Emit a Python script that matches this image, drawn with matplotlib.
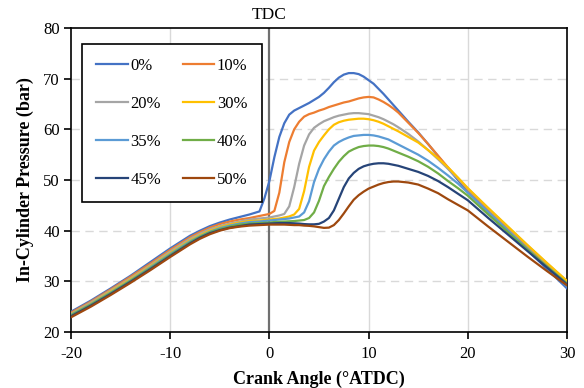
import matplotlib
matplotlib.use("Agg")
import matplotlib.pyplot as plt
import numpy as np

# %% data (crank angle in deg ATDC, pressure in bar)
crank = ([-20, -18, -16, -14, -12, -10, -8, -7, -6, -5, -4, -3, -2]
         + [-1.5, -1, -0.5, 0, 0.5, 1, 1.5, 2, 2.5, 3, 3.5, 4, 4.5, 5, 5.5,
            6, 6.5, 7, 7.5, 8, 8.5, 9, 9.5, 10, 10.5, 11, 11.5, 12, 12.5, 13]
         + [14, 15, 16, 17, 18, 19, 20, 22, 24, 26, 28, 30])

labels = ["0%", "10%", "20%", "30%", "35%", "40%", "45%", "50%"]
colors = ["#4472C4", "#ED7D31", "#A5A5A5", "#FFC000",
          "#5B9BD5", "#70AD47", "#264478", "#9E480E"]

p00 = [24.0, 26.2, 28.6, 31.1, 33.8, 36.5, 39.0, 40.0, 40.9, 41.6, 42.2, 42.7, 43.2,
       43.5, 43.8, 46.4, 49.8, 54.5, 58.5, 61.2, 62.9, 63.7, 64.2, 64.7, 65.2, 65.8,
       66.4, 67.2, 68.2, 69.3, 70.2, 70.8, 71.1, 71.1, 70.9, 70.4, 69.7, 69.0, 68.0,
       67.0, 65.9, 64.8, 63.7,
       61.5, 59.4, 57.1, 54.7, 52.3, 50.0, 47.6, 43.8, 40.0, 36.2, 32.4, 28.6]
p10 = [23.8, 26.0, 28.4, 30.9, 33.5, 36.2, 38.7, 39.7, 40.6, 41.3, 41.8, 42.2, 42.5,
       42.7, 42.9, 43.1, 43.3, 43.9, 47.5, 53.5, 57.5, 60.0, 61.5, 62.5, 63.0, 63.3,
       63.7, 64.0, 64.4, 64.7, 65.0, 65.3, 65.5, 65.8, 66.1, 66.3, 66.4, 66.3, 65.9,
       65.4, 64.8, 64.1, 63.3,
       61.3, 59.3, 57.1, 54.8, 52.5, 50.3, 48.1, 44.3, 40.6, 36.9, 33.3, 29.8]
p20 = [23.6, 25.8, 28.2, 30.6, 33.2, 35.9, 38.4, 39.4, 40.3, 40.9, 41.4, 41.8, 42.2,
       42.3, 42.4, 42.5, 42.6, 42.8, 43.0, 43.3, 44.8, 48.6, 53.2, 56.8, 59.0, 60.3,
       61.0, 61.6, 62.0, 62.4, 62.7, 62.9, 63.1, 63.2, 63.2, 63.1, 63.0, 62.7, 62.4,
       62.0, 61.5, 61.0, 60.4,
       59.1, 57.6, 55.9, 54.1, 52.2, 50.3, 48.3, 44.5, 40.8, 37.1, 33.5, 30.0]
p30 = [23.5, 25.6, 28.0, 30.4, 33.0, 35.6, 38.1, 39.1, 40.0, 40.7, 41.2, 41.6, 41.9,
       41.95, 42.0, 42.1, 42.2, 42.3, 42.4, 42.6, 42.8, 43.2, 44.3, 47.8, 52.6, 55.8,
       57.5, 58.8, 60.0, 60.9, 61.4, 61.7, 61.9, 62.0, 62.1, 62.1, 62.0, 61.8, 61.5,
       61.1, 60.6, 60.1, 59.6,
       58.5, 57.4, 55.9, 54.3, 52.5, 50.5, 48.4, 44.6, 40.9, 37.2, 33.6, 30.1]
p35 = [23.4, 25.5, 27.8, 30.2, 32.8, 35.4, 37.9, 38.9, 39.8, 40.5, 41.0, 41.4, 41.7,
       41.75, 41.8, 41.9, 42.0, 42.1, 42.2, 42.3, 42.4, 42.6, 42.8, 43.6, 45.8, 49.6,
       52.2, 54.1, 55.6, 56.8, 57.5, 58.0, 58.4, 58.7, 58.8, 58.9, 58.9, 58.8, 58.6,
       58.3, 58.0, 57.5, 57.0,
       56.0, 55.0, 53.8, 52.4, 50.9, 49.3, 47.5, 43.8, 40.1, 36.4, 32.7, 29.0]
p40 = [23.3, 25.4, 27.7, 30.1, 32.6, 35.2, 37.7, 38.8, 39.7, 40.3, 40.8, 41.2, 41.4,
       41.45, 41.5, 41.55, 41.6, 41.7, 41.75, 41.8, 41.85, 41.9, 42.0, 42.1, 42.5, 43.6,
       45.9, 48.8, 50.6, 52.2, 53.6, 54.7, 55.6, 56.1, 56.5, 56.7, 56.8, 56.8, 56.7,
       56.5, 56.2, 55.8, 55.4,
       54.6, 53.7, 52.6, 51.3, 49.8, 48.4, 46.9, 43.3, 39.8, 36.3, 32.9, 29.6]
p45 = [23.1, 25.2, 27.5, 29.9, 32.4, 35.0, 37.5, 38.6, 39.5, 40.1, 40.6, 40.9, 41.2,
       41.25, 41.3, 41.35, 41.4, 41.45, 41.5, 41.5, 41.5, 41.45, 41.4, 41.3, 41.25, 41.25,
       41.35, 41.8, 42.5, 44.0, 46.3, 48.6, 50.3, 51.4, 52.2, 52.7, 53.0, 53.2, 53.3,
       53.3, 53.2, 53.0, 52.8,
       52.2, 51.6, 50.8, 49.8, 48.6, 47.3, 46.0, 42.6, 39.3, 36.0, 32.7, 29.4]
p50 = [22.9, 25.0, 27.3, 29.7, 32.2, 34.8, 37.3, 38.4, 39.3, 40.0, 40.5, 40.8, 41.0,
       41.05, 41.1, 41.15, 41.2, 41.2, 41.2, 41.2, 41.15, 41.1, 41.1, 41.0, 40.95, 40.85,
       40.7, 40.55, 40.6, 41.1, 42.1, 43.4, 44.8, 46.1, 47.0, 47.7, 48.3, 48.7, 49.1,
       49.4, 49.6, 49.7, 49.7,
       49.5, 49.1, 48.3, 47.4, 46.2, 45.1, 44.0, 40.9, 37.9, 34.9, 32.0, 29.2]
series = [p00, p10, p20, p30, p35, p40, p45, p50]

xTicks = [-20, -10, 0, 10, 20, 30]
yTicks = [20, 30, 40, 50, 60, 70, 80]

# %% plot
plt.rcParams["font.family"] = ["Liberation Serif", "DejaVu Serif"]
plt.rcParams["axes.unicode_minus"] = False
fig = plt.figure(figsize=(5.84, 3.88), dpi=100)
ax = fig.add_axes([71/584, 1 - 332/388, 496/584, 304/388])

for xt in [-10, 10, 20]:
    ax.axvline(xt, color="#d9d9d9", lw=1.0, zorder=1)
for yt in [30, 40, 50, 60, 70]:
    ax.axhline(yt, color="#d9d9d9", lw=1.0, ls=(0, (6, 4)), zorder=1)

lines = []
for vals, lab, col in zip(series, labels, colors):
    ln, = ax.plot(crank, vals, color=col, lw=1.6, label=lab, zorder=3)
    lines.append(ln)

ax.axvline(0, color="#707070", lw=1.6, zorder=2)
ax.text(0, 81, "TDC", ha="center", va="bottom", fontsize=12.5, clip_on=False)

ax.set_xlim(-20, 30)
ax.set_ylim(20, 80)
ax.set_xticks(xTicks)
ax.set_yticks(yTicks)
ax.tick_params(direction="out", length=5, width=1.2, labelsize=12)
ax.tick_params(axis="x", pad=5)
ax.tick_params(axis="y", pad=3)
for s in ax.spines.values():
    s.set_linewidth(1.2)

ax.set_xlabel("Crank Angle (°ATDC)", fontsize=13, fontweight="bold", labelpad=6)
ax.set_ylabel("In-Cylinder Pressure (bar)", fontsize=13, fontweight="bold", labelpad=7)

order = [0, 2, 4, 6, 1, 3, 5, 7]
leg = ax.legend([lines[i] for i in order], [labels[i] for i in order],
                ncol=2, loc="upper left", bbox_to_anchor=(0.022, 0.947),
                borderaxespad=0, fontsize=12, frameon=True, fancybox=False,
                edgecolor="black", framealpha=1, handlelength=1.9,
                handletextpad=0.15, labelspacing=1.32, columnspacing=1.3,
                borderpad=0.85)
leg.get_frame().set_linewidth(1.2)

fig.savefig("out.png", dpi=100)
